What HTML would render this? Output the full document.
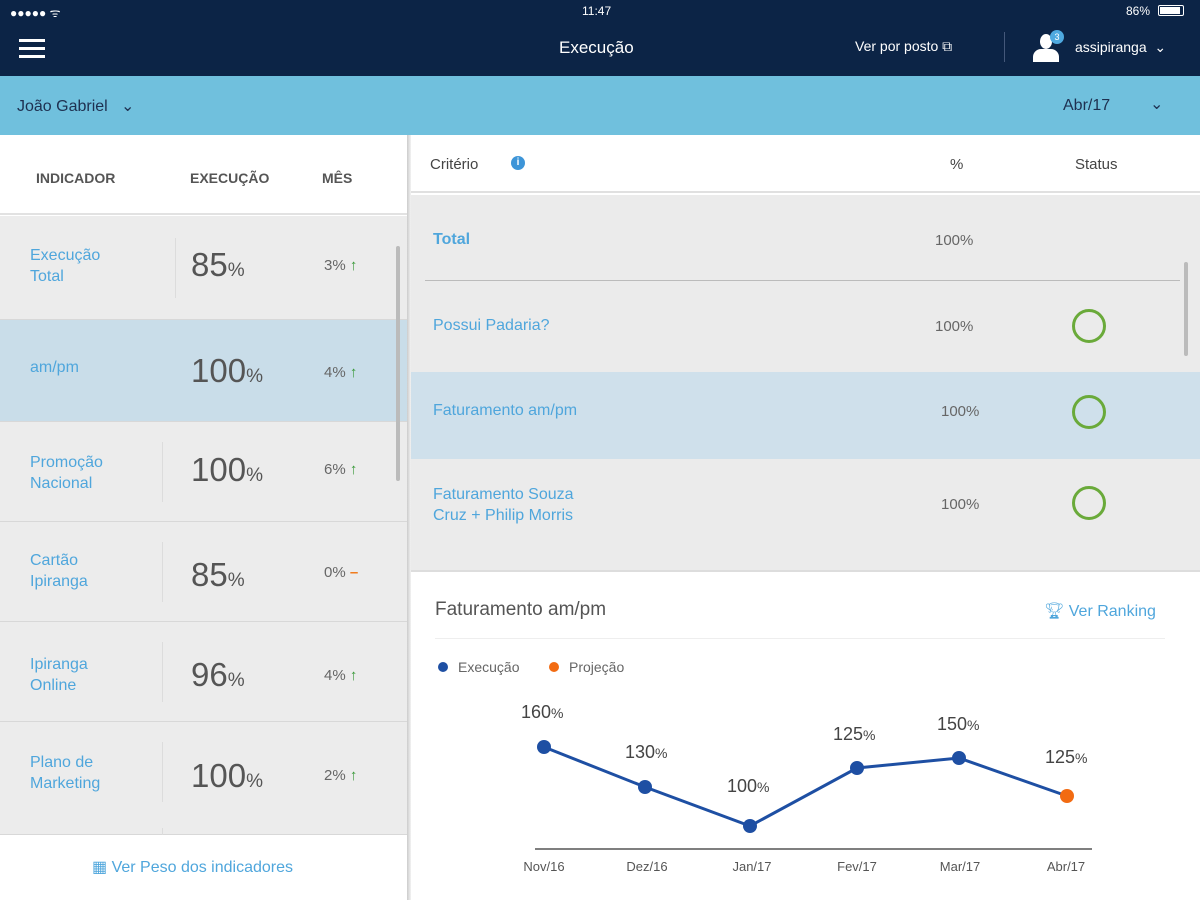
<!DOCTYPE html>
<html><head><meta charset="utf-8"><style>
*{margin:0;padding:0;box-sizing:border-box}
body{width:1200px;height:900px;overflow:hidden;font-family:"Liberation Sans",sans-serif;position:relative;background:#fff}
.a{position:absolute;white-space:nowrap}
.lnk{color:#4fa6dc}
.row{position:absolute;left:0;width:407px;background:#ececec;border-bottom:1px solid #d8d8d8}
.vsep{position:absolute;width:1px;background:#dcdcdc}
.big{position:absolute;left:191px;font-size:33px;color:#555}
.big span{font-size:19px}
.m{position:absolute;left:324px;font-size:15px;color:#666}
.m b{color:#3a9a3a !important;font-weight:bold}
.circ{position:absolute;left:1072px;width:34px;height:34px;border:3px solid #6aaa3a;border-radius:50%}
</style></head><body>
<div class="a" style="left:0;top:0;width:1200px;height:76px;background:#0c2446"></div>
<div class="a" style="left:10px;top:4px;color:#fff;font-size:12px">●●●●● ᯤ</div>
<div class="a" style="left:582px;top:4px;color:#fff;font-size:12px">11:47</div>
<div class="a" style="left:1126px;top:4px;color:#fff;font-size:12px">86%</div>
<div class="a" style="left:1158px;top:5px;width:26px;height:11px;border:1px solid #fff;border-radius:2px;padding:1px"><div style="width:20px;height:7px;background:#fff"></div></div>
<div class="a" style="left:19px;top:39px;width:26px;height:3px;background:#fff;box-shadow:0 8px 0 #fff,0 16px 0 #fff;top:39px"></div>
<div class="a" style="left:559px;top:38px;color:#fff;font-size:17px">Execução</div>
<div class="a" style="left:855px;top:38px;color:#fff;font-size:14px">Ver por posto ⧉</div>
<div class="a" style="left:1004px;top:32px;width:1px;height:30px;background:#44587a"></div>
<div class="a" style="left:1033px;top:34px;width:26px;height:28px"><div style="position:absolute;left:7px;top:0;width:12px;height:15px;border-radius:50%;background:#fff"></div><div style="position:absolute;left:0;top:15px;width:26px;height:13px;border-radius:8px 8px 0 0;background:#fff"></div></div>
<div class="a" style="left:1050px;top:30px;width:14px;height:14px;border-radius:50%;background:#4ea9e0;color:#fff;font-size:9px;text-align:center;line-height:14px">3</div>
<div class="a" style="left:1075px;top:39px;color:#fff;font-size:14px">assipiranga &nbsp;⌄</div>
<div class="a" style="left:0;top:76px;width:1200px;height:59px;background:#70c0dd"></div>
<div class="a" style="left:17px;top:96px;color:#1e3050;font-size:16px">João Gabriel &nbsp; ⌄</div>
<div class="a" style="left:1063px;top:97px;color:#1e3050;font-size:16px">Abr/17</div>
<div class="a" style="left:1150px;top:94px;color:#1e3050;font-size:16px">⌄</div>
<!-- left -->
<div class="a" style="left:0;top:135px;width:407px;height:80px;background:#fff;border-bottom:2px solid #e2e2e2"></div>
<div class="a" style="left:36px;top:170px;font-size:14px;font-weight:bold;color:#555">INDICADOR</div>
<div class="a" style="left:190px;top:170px;font-size:14px;font-weight:bold;color:#555">EXECUÇÃO</div>
<div class="a" style="left:322px;top:170px;font-size:14px;font-weight:bold;color:#555">MÊS</div>
<div class="row" style="top:216px;height:104px"></div>
<div class="row" style="top:320px;height:102px;background:#c9dde9"></div>
<div class="row" style="top:422px;height:100px"></div>
<div class="row" style="top:522px;height:100px"></div>
<div class="row" style="top:622px;height:100px"></div>
<div class="row" style="top:722px;height:113px"></div>
<div class="vsep" style="left:175px;top:238px;height:60px"></div>
<div class="vsep" style="left:162px;top:442px;height:60px"></div>
<div class="vsep" style="left:162px;top:542px;height:60px"></div>
<div class="vsep" style="left:162px;top:642px;height:60px"></div>
<div class="vsep" style="left:162px;top:742px;height:60px"></div>
<div class="vsep" style="left:162px;top:828px;height:7px"></div>
<div class="a lnk" style="left:30px;top:245px;font-size:16px;line-height:21px">Execução<br>Total</div>
<div class="big" style="top:246px">85<span>%</span></div><div class="m" style="top:257px">3% <b>↑</b></div>
<div class="a lnk" style="left:30px;top:359px;font-size:16px">am/pm</div>
<div class="big" style="top:352px">100<span>%</span></div><div class="m" style="top:364px">4% <b>↑</b></div>
<div class="a lnk" style="left:30px;top:452px;font-size:16px;line-height:21px">Promoção<br>Nacional</div>
<div class="big" style="top:451px">100<span>%</span></div><div class="m" style="top:461px">6% <b>↑</b></div>
<div class="a lnk" style="left:30px;top:550px;font-size:16px;line-height:21px">Cartão<br>Ipiranga</div>
<div class="big" style="top:556px">85<span>%</span></div><div class="m" style="top:564px">0% <b style="color:#f07a1a !important">–</b></div>
<div class="a lnk" style="left:30px;top:654px;font-size:16px;line-height:21px">Ipiranga<br>Online</div>
<div class="big" style="top:656px">96<span>%</span></div><div class="m" style="top:667px">4% <b>↑</b></div>
<div class="a lnk" style="left:30px;top:752px;font-size:16px;line-height:21px">Plano de<br>Marketing</div>
<div class="big" style="top:757px">100<span>%</span></div><div class="m" style="top:767px">2% <b>↑</b></div>
<div class="a" style="left:396px;top:246px;width:4px;height:235px;background:#bbb;border-radius:2px"></div>
<div class="a" style="left:0;top:835px;width:407px;height:65px;background:#fff"></div>
<div class="a lnk" style="left:92px;top:857px;font-size:16px">▦ Ver Peso dos indicadores</div>
<div class="a" style="left:407px;top:135px;width:4px;height:765px;background:linear-gradient(90deg,#ccc,#f2f2f2)"></div>
<!-- right -->
<div class="a" style="left:411px;top:135px;width:789px;height:58px;background:#fff;border-bottom:2px solid #e0e0e0"></div>
<div class="a" style="left:430px;top:156px;font-size:15px;color:#444">Critério</div>
<div class="a" style="left:511px;top:156px;width:14px;height:14px;border-radius:50%;background:#3d95d8;color:#fff;font-size:10px;text-align:center;line-height:14px;font-weight:bold">i</div>
<div class="a" style="left:950px;top:156px;font-size:15px;color:#444">%</div>
<div class="a" style="left:1075px;top:156px;font-size:15px;color:#444">Status</div>
<div class="a" style="left:411px;top:195px;width:789px;height:376px;background:#ebebeb"></div>
<div class="a" style="left:425px;top:280px;width:755px;height:1px;background:#bbb"></div>
<div class="a" style="left:411px;top:372px;width:789px;height:87px;background:#cfe0eb"></div>
<div class="a" style="left:1184px;top:262px;width:4px;height:94px;background:#bbb;border-radius:2px"></div>
<div class="a" style="left:433px;top:231px;font-size:16px;font-weight:bold;color:#4fa6dc">Total</div>
<div class="a" style="left:935px;top:232px;font-size:15px;color:#666">100%</div>
<div class="a lnk" style="left:433px;top:317px;font-size:16px">Possui Padaria?</div>
<div class="a" style="left:935px;top:318px;font-size:15px;color:#666">100%</div>
<div class="circ" style="top:309px"></div>
<div class="a lnk" style="left:433px;top:402px;font-size:16px">Faturamento am/pm</div>
<div class="a" style="left:941px;top:403px;font-size:15px;color:#666">100%</div>
<div class="circ" style="top:395px"></div>
<div class="a lnk" style="left:433px;top:484px;font-size:16px;line-height:21px">Faturamento Souza<br>Cruz + Philip Morris</div>
<div class="a" style="left:941px;top:496px;font-size:15px;color:#666">100%</div>
<div class="circ" style="top:486px"></div>
<div class="a" style="left:411px;top:570px;width:789px;height:2px;background:#ddd"></div>
<div class="a" style="left:435px;top:599px;font-size:19px;color:#555">Faturamento am/pm</div>
<div class="a lnk" style="left:1044px;top:601px;font-size:16px">🏆︎ Ver Ranking</div>
<div class="a" style="left:435px;top:638px;width:730px;height:1px;background:#eee"></div>
<svg class="a" style="left:0;top:0" width="1200" height="900">
<circle cx="443" cy="667" r="5" fill="#1e4fa3"/><text x="458" y="672" font-size="14" fill="#666" font-family="Liberation Sans">Execução</text>
<circle cx="554" cy="667" r="5" fill="#f26b12"/><text x="569" y="672" font-size="14" fill="#666" font-family="Liberation Sans">Projeção</text>
<line x1="535" y1="849" x2="1092" y2="849" stroke="#555" stroke-width="1.5"/>
<polyline points="544,747 645,787 750,826 857,768 959,758 1067,796" fill="none" stroke="#1e4fa3" stroke-width="3"/>
<g fill="#1e4fa3"><circle cx="544" cy="747" r="7"/><circle cx="645" cy="787" r="7"/><circle cx="750" cy="826" r="7"/><circle cx="857" cy="768" r="7"/><circle cx="959" cy="758" r="7"/></g>
<circle cx="1067" cy="796" r="7" fill="#f26b12"/>
<g font-family="Liberation Sans" fill="#444" font-size="18">
<text x="521" y="718">160<tspan font-size="14">%</tspan></text>
<text x="625" y="758">130<tspan font-size="14">%</tspan></text>
<text x="727" y="792">100<tspan font-size="14">%</tspan></text>
<text x="833" y="740">125<tspan font-size="14">%</tspan></text>
<text x="937" y="730">150<tspan font-size="14">%</tspan></text>
<text x="1045" y="763">125<tspan font-size="14">%</tspan></text>
</g>
<g font-family="Liberation Sans" fill="#555" font-size="13" text-anchor="middle">
<text x="544" y="871">Nov/16</text><text x="647" y="871">Dez/16</text><text x="752" y="871">Jan/17</text><text x="857" y="871">Fev/17</text><text x="960" y="871">Mar/17</text><text x="1066" y="871">Abr/17</text>
</g>
</svg>
</body></html>
